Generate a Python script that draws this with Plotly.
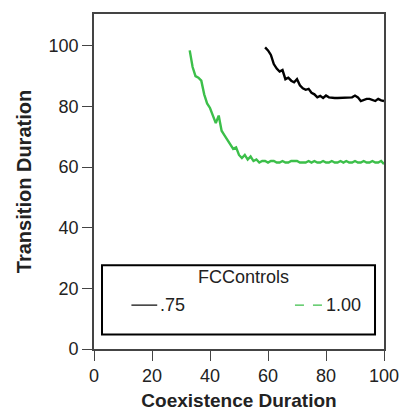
import plotly.graph_objects as go

green_x = list(range(33, 101))
green_y = [98.5, 93, 90, 89.5, 88.5, 84, 81, 79.5, 77, 74.5,
           77, 72, 70.5, 69, 67.5, 66, 66.5, 64, 63, 64,
           62.5, 63.5, 62, 62.5, 61.5, 62, 62, 61.5, 62, 62,
           61.5, 61.5, 62, 61.5, 61.5, 62, 62, 62, 61.5, 61.5,
           61.5, 62, 61.5, 62, 61.5, 61.5, 62, 61.5, 61.5, 62,
           61.5, 61.5, 62, 61.5, 62, 61.5, 61.5, 62, 61.5, 61.5,
           62, 61.5, 61.5, 62, 61.5, 61.5, 62, 61]

black_x = list(range(59, 101))
black_y = [99.5, 98.5, 97, 94, 92.5, 91.5, 92, 89, 89.5, 88.5,
           88, 89, 87, 86, 85.5, 85.8, 84.5, 84, 83, 83.5,
           82.8, 83.6, 83, 82.8, 82.8, 82.8, 82.8, 82.8, 82.8, 82.8,
           83, 83.6, 83, 81.8, 82.2, 82.5, 82.5, 82.2, 81.8, 82.5,
           82, 81.8]

legend_title = "FCControls"
legend_labels = [".75", "1.00"]
GREEN = "#3cbf4a"
FONT = "Liberation Sans, Arial"

fig = go.Figure()
fig.add_trace(go.Scatter(x=black_x, y=black_y, mode="lines", name=legend_labels[0],
                         line=dict(color="black", width=2.4), showlegend=False))
fig.add_trace(go.Scatter(x=green_x, y=green_y, mode="lines", name=legend_labels[1],
                         line=dict(color=GREEN, width=2.4), showlegend=False))

axis_common = dict(showgrid=False, zeroline=False, showline=True, linecolor="#444444",
                   linewidth=1.6, mirror=True, ticks="outside", ticklen=10,
                   tickcolor="#444444", tickwidth=1.2,
                   tickfont=dict(family=FONT, size=18, color="#222"))

fig.update_xaxes(range=[0, 100], tickvals=[0, 20, 40, 60, 80, 100],
                 title=dict(text="<b>Coexistence Duration</b>", standoff=8,
                            font=dict(family=FONT, size=19, color="#222")),
                 **axis_common)
fig.update_yaxes(range=[0, 110.5], tickvals=[0, 20, 40, 60, 80, 100],
                 title=dict(text="<b>Transition Duration</b>", standoff=12,
                            font=dict(family=FONT, size=20, color="#222")),
                 **axis_common)

# manual legend box
shapes = [
    dict(type="rect", xref="paper", yref="paper", x0=0.0276, x1=0.969, y0=0.043, y1=0.250,
         line=dict(color="black", width=2), fillcolor="white", layer="above"),
    dict(type="line", xref="paper", yref="paper", x0=0.129, x1=0.218, y0=0.131, y1=0.131,
         line=dict(color="black", width=1.2), layer="above"),
    dict(type="line", xref="paper", yref="paper", x0=0.693, x1=0.790, y0=0.131, y1=0.131,
         line=dict(color=GREEN, width=1.2, dash="dash"), layer="above"),
]
annotations = [
    dict(text=legend_title, xref="paper", yref="paper", x=0.514, y=0.215,
         xanchor="center", yanchor="middle", showarrow=False,
         font=dict(family=FONT, size=18, color="#222")),
    dict(text=legend_labels[0], xref="paper", yref="paper", x=0.219, y=0.131,
         xanchor="left", yanchor="middle", showarrow=False,
         font=dict(family=FONT, size=18, color="#222")),
    dict(text=legend_labels[1], xref="paper", yref="paper", x=0.793, y=0.131,
         xanchor="left", yanchor="middle", showarrow=False,
         font=dict(family=FONT, size=18, color="#222")),
]

fig.update_layout(
    width=413, height=412,
    margin=dict(l=86, r=37, t=4, b=71),
    plot_bgcolor="white", paper_bgcolor="white",
    showlegend=False,
    shapes=shapes, annotations=annotations,
)

fig.write_html("out.html")
